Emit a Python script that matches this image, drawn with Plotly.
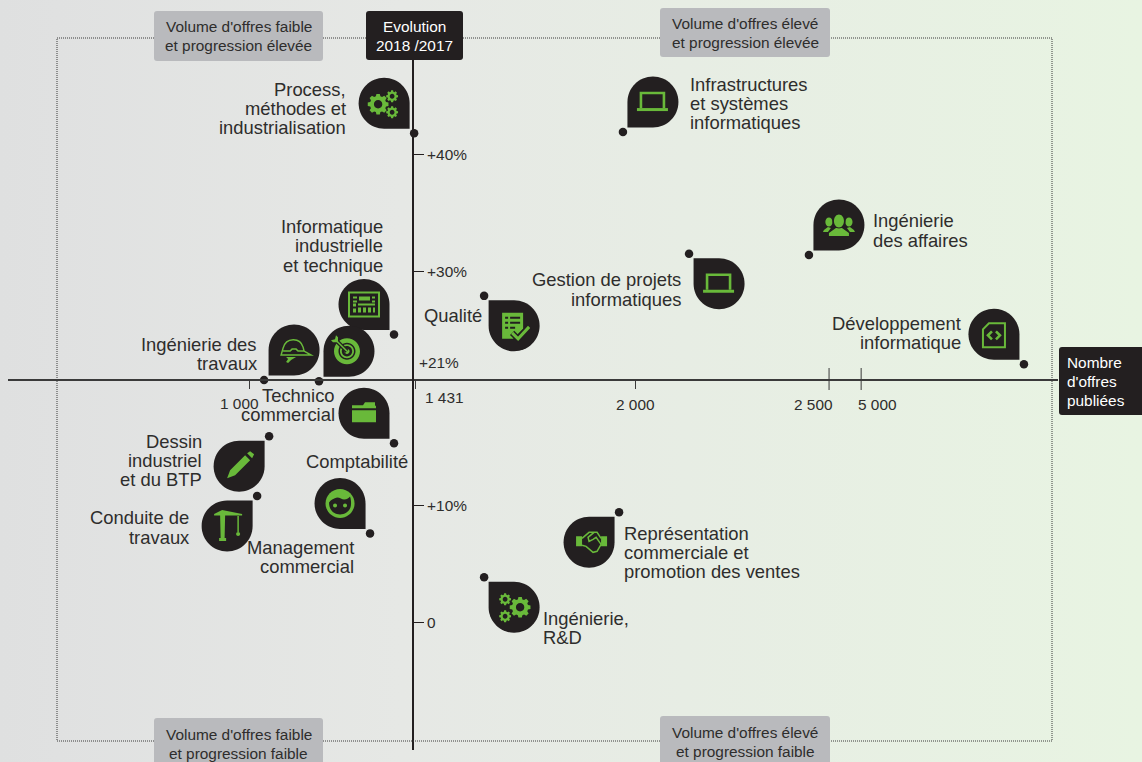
import math, re
import plotly.graph_objects as go

# ---------- data ----------
categories = [
    "Process,\nméthodes et\nindustrialisation", "Infrastructures\net systèmes\ninformatiques",
    "Ingénierie\ndes affaires", "Gestion de projets\ninformatiques", "Qualité",
    "Informatique\nindustrielle\net technique", "Développement\ninformatique",
    "Ingénierie des\ntravaux", "Technico\ncommercial", "Comptabilité",
    "Dessin\nindustriel\net du BTP", "Conduite de\ntravaux", "Management\ncommercial",
    "Représentation\ncommerciale et\npromotion des ventes", "Ingénierie,\nR&D",
]
offers = [1427, 1967, 2448, 2138, 1608, 1375, 6200, 1039, 1181, 1375, 1052, 1021, 1313, 1957, 1608]
growth = [41.8, 41.9, 31.4, 31.5, 27.9, 24.6, 22.05, 20.7, 20.6, 15.3, 15.9, 10.8, 7.6, 9.4, 3.85]
y_ticks = [0, 10, 30, 40]
y_tick_labels = ["0", "+10%", "+30%", "+40%"]
x_ticks = [1000, 1431, 2000, 2500, 5000]
x_tick_labels = ["1 000", "1 431", "2 000", "2 500", "5 000"]

# ---------- styling ----------
W, H = 1142, 762
DARK = "#231f20"; GREEN = "#69b93a"; TEXT = "#2e2d2c"; GREY = "#b9babd"
FONT = "Liberation Sans"
LBL = 18.4; SMALL = 15.4

def to_axis(v):
    """Broken horizontal scale: linear up to 2 500, compressed after."""
    if v <= 2500: return v
    if v <= 5000: return 2500 + (v - 2500) * 83 / 2500
    return 2583 + (v - 5000) * 421 / 1200

X_DOM = (8, 1058); Y_DOM = (60, 750)          # pixel extents of the axes
XSC = 0.3867; YSC = 11.7
xr = [1000 + (X_DOM[0] - 249) / XSC, 1000 + (X_DOM[1] - 249) / XSC]
yr = [(622.3 - Y_DOM[1]) / YSC, (622.3 - Y_DOM[0]) / YSC]

fig = go.Figure()
fig.add_trace(go.Scatter(x=[0, 1, 1, 0, 0], y=[0, 0, 1, 1, 0], mode="lines", line=dict(width=0),
    fill="toself", hoverinfo="skip", showlegend=False,
    fillgradient=dict(type="horizontal", colorscale=[[0, "#dfe0e0"], [0.05, "#e0e1e1"], [0.35, "#e6e8e5"], [0.6, "#e7ede4"], [1, "#e8f4e2"]])))
fig.add_trace(go.Scatter(x=[to_axis(v) for v in offers], y=growth, xaxis="x2", yaxis="y2", mode="markers",
    marker=dict(size=8.5, color=DARK), cliponaxis=False, showlegend=False, text=categories, hoverinfo="text"))

shapes = []; ann = []

def txt(s, x, y, size=LBL, color=TEXT, anchor="center", **kw):
    ann.append(dict(text=s, x=x, y=y, showarrow=False, xanchor=anchor, yanchor="middle", borderpad=0,
                    font=dict(family=FONT, size=size, color=color), **kw))

def paper_txt(s, px, py, **kw):
    txt(s, px / W, 1 - py / H, xref="paper", yref="paper", **kw)

def round_box(x0, y0, x1, y1, color, r=3):
    X0, X1 = x0 / W, x1 / W; Y0, Y1 = 1 - y0 / H, 1 - y1 / H; rx, ry = r / W, r / H
    p = (f"M{X0+rx},{Y0} L{X1-rx},{Y0} Q{X1},{Y0} {X1},{Y0-ry} L{X1},{Y1+ry} Q{X1},{Y1} {X1-rx},{Y1} "
         f"L{X0+rx},{Y1} Q{X0},{Y1} {X0},{Y1+ry} L{X0},{Y0-ry} Q{X0},{Y0} {X0+rx},{Y0} Z")
    shapes.append(dict(type="path", path=p, xref="paper", yref="paper", fillcolor=color, line=dict(width=0), layer="above"))

shapes.append(dict(type="rect", xref="paper", yref="paper", x0=57/W, x1=1052/W, y0=1-741/H, y1=1-38/H,
                   line=dict(color="#3a3a3a", width=1, dash="1px,1px"), layer="above"))
for v in (2500, 5000):
    shapes.append(dict(type="line", xref="x2", yref="paper", x0=to_axis(v), x1=to_axis(v), y0=1-368/H, y1=1-390/H,
                       line=dict(color="#3a3a3a", width=1), layer="above"))

for (x0, y0, x1, y1, l1, l2, yy) in [
    (154, 11, 323, 61, "Volume d'offres faible", "et progression élevée", (26, 45)),
    (660, 8, 830, 57, "Volume d'offres élevé", "et progression élevée", (23, 42)),
    (154, 718, 323, 770, "Volume d'offres faible", "et progression faible", (734, 753)),
    (660, 716, 830, 770, "Volume d'offres élevé", "et progression faible", (732, 751)),
]:
    round_box(x0, y0, x1, y1, GREY)
    paper_txt(l1, (x0 + x1) / 2, yy[0], size=SMALL)
    paper_txt(l2, (x0 + x1) / 2, yy[1], size=SMALL)
round_box(366, 11, 463, 60, DARK)
paper_txt("Evolution", 414, 26, size=SMALL, color="white")
paper_txt("2018 /2017", 414, 45, size=SMALL, color="white")
round_box(1059, 347, 1160, 415, DARK)
for s, py in zip(["Nombre", "d'offres", "publiées"], (362, 381, 400)):
    paper_txt(s, 1066, py, size=SMALL, color="white", anchor="left")

# ---------- pins ----------
OFF = 4.5; R = 25.5; K = 0.5523 * R

def xf(path, ox, oy):
    """local pixel path (y down) -> shape pixel path (y up, origin at the point)"""
    toks = re.findall(r"[MLCQZ]|-?\d+\.?\d*", path)
    out = []; i = 0
    while i < len(toks):
        t = toks[i]
        if t in "MLCQZ":
            out.append(t); i += 1
        else:
            out.append(f"{float(t)+ox:.2f},{-(float(toks[i+1])+oy):.2f}"); i += 2
    return " ".join(out)

def circ(cx, cy, r, ry=None):
    ry = ry or r
    k = .5523 * r; m = .5523 * ry
    return (f"M{cx-r} {cy} C{cx-r} {cy-m} {cx-k} {cy-ry} {cx} {cy-ry} C{cx+k} {cy-ry} {cx+r} {cy-m} {cx+r} {cy} "
            f"C{cx+r} {cy+m} {cx+k} {cy+ry} {cx} {cy+ry} C{cx-k} {cy+ry} {cx-r} {cy+m} {cx-r} {cy} Z ")

def rect(x0, y0, x1, y1):
    return f"M{x0} {y0} L{x1} {y0} L{x1} {y1} L{x0} {y1} Z "

def gear(cx, cy, r, teeth=8, hole=.4):
    pts = []
    for i in range(teeth):
        a = 2 * math.pi * i / teeth; w = math.pi / teeth * .55
        for da, rr in ((-w*1.3, r*.78), (-w*.75, r), (w*.75, r), (w*1.3, r*.78)):
            pts.append((cx + rr * math.cos(a + da), cy + rr * math.sin(a + da)))
    return "M" + " L".join(f"{x:.2f} {y:.2f}" for x, y in pts) + " Z " + circ(round(cx, 2), round(cy, 2), round(r * hole, 2))

def pin(corner):
    R_ = R; k = K
    if corner == "br":
        return f"M0 0 L-{R_} 0 C-{R_+k} 0 -{2*R_} -{R_-k} -{2*R_} -{R_} C-{2*R_} -{R_+k} -{R_+k} -{2*R_} -{R_} -{2*R_} C-{R_-k} -{2*R_} 0 -{R_+k} 0 -{R_} Z"
    if corner == "bl":
        return f"M0 0 L{R_} 0 C{R_+k} 0 {2*R_} -{R_-k} {2*R_} -{R_} C{2*R_} -{R_+k} {R_+k} -{2*R_} {R_} -{2*R_} C{R_-k} -{2*R_} 0 -{R_+k} 0 -{R_} Z"
    if corner == "tr":
        return f"M0 0 L-{R_} 0 C-{R_+k} 0 -{2*R_} {R_-k} -{2*R_} {R_} C-{2*R_} {R_+k} -{R_+k} {2*R_} -{R_} {2*R_} C-{R_-k} {2*R_} 0 {R_+k} 0 {R_} Z"
    return f"M0 0 L{R_} 0 C{R_+k} 0 {2*R_} {R_-k} {2*R_} {R_} C{2*R_} {R_+k} {R_+k} {2*R_} {R_} {2*R_} C{R_-k} {2*R_} 0 {R_+k} 0 {R_} Z"

LAPTOP_S = "M-12 6 L-12 -9 L11 -9 L11 6"
LAPTOP_F = "M-16 6 L15 6 L15 9 L-16 9 Z"

ICONS = {
    "gears_r": [("f", gear(-6, 1, 10.5) + gear(8, -7, 6) + gear(8, 9, 6))],
    "gears_l": [("f", gear(6, 0, 10.5) + gear(-9, -8, 6) + gear(-9, 9, 6))],
    "laptop": [("s3", LAPTOP_S), ("f", LAPTOP_F)],
    "people": [("f", "M-10 11 L-10 8 L-3 3 L3 3 L10 8 L10 11 Z " + circ(-10, -3, 3.6, 4.5) + "M-16 7 L-15 5 L-11 2 L-8 3 L-11 7 Z "
                + circ(10, -3, 3.6, 4.5) + "M16 7 L15 5 L11 2 L8 3 L11 7 Z "),
               ("d", circ(0, -4, 6.5, 7.5)), ("f", circ(0, -4, 5, 6.5))],
    "check": [("f", "M-12 -13 L9 -13 L9 3 L3 9 L-1 13 L-12 13 Z"),
              ("d", rect(-9, -9, -6, -7) + rect(-4, -9, 6, -7) + rect(-9, -4, -6, -2) + rect(-4, -4, 6, -2) + rect(-9, 1, -6, 3) + rect(-4, 1, 1, 3)),
              ("c", "M-2 7 L4 13 L15 1")],
    "panel": [("s", rect(-15, -12, 15, 12)),
              ("f", rect(-11, -8, -7, -6) + rect(-5, -8, 6, -4) + rect(8, -8, 11, -6) + rect(-11, -4, -7, -2)
               + rect(8, -4, 11, -2) + rect(-11, -1, -8, 2) + rect(-6, -1, 11, 1) + rect(-11, 4, -8, 8) + rect(-6, 3, -3, 8)
               + rect(-1, 3, 2, 8) + rect(4, 3, 7, 8) + rect(9, 3, 11, 8))],
    "doc": [("s", "M-5 -11 L11 -11 L11 13 L-11 13 L-11 -5 Z"),
            ("s3", "M-2 -3 L-6 1 L-2 5 M2 -3 L6 1 L2 5")],
    "helmet": [("s15", "M-13 5 L-11 -2 C-8 -13 6 -13 9 -3 L10 1 L17 5 L-13 5 Z M-11 1 L-4 1 L-2 -1 L2 -1 L4 1 L10 1"),
               ("f", "M-8 7 L2 7 L-3 10 L-6 13 L-8 12 L-6 9 Z")],
    "target": [("f", circ(-2, 0, 13) + circ(-2, 0, 8.5) + circ(-2, 0, 7) + circ(-2, 0, 5.2) + circ(-2, 0, 2.6)),
               ("c1", "M-13 -11 L-2 0"), ("f", "M-16 -9 L-11 -9 L-11 -14 L-13 -16 L-14 -12 L-18 -11 Z")],
    "folder": [("f", "M-12 -5 L-12 -8 L-1 -8 L1 -11 L11 -11 L11 -8 L12 -7 L12 -5 Z M-12 -3 L12 -3 L12 9 L-12 9 Z")],
    "pencil": [("f", "M-12 12 L-9 4 L6 -11 L11 -6 L-4 9 Z M8 -13 L11 -15 L15 -12 L13 -8 Z")],
    "face": [("f", circ(0, 0, 14.5)), ("d", "M-11 -1 C-9 -4 -6 -5 -3 -6 C0 -6 2 -4 4 -4 C7 -4 9 -6 10 -7 C11 -4 11 -2 11 0 C11 7 6 11 0 11 C-6 11 -11 7 -11 -1 Z"),
             ("f", circ(-5, 2, 2) + circ(5, 2, 2))],
    "crane": [("f", "M-13 -12 L-5 -16 L15 -12 L15 -10.5 L-13 -10.5 Z M-7 -10.5 L-2 -10.5 L-2.5 12 L-6.5 12 Z M-8 12 L-1 12 L-1 15 L-8 15 Z"),
              ("s15", "M11 -10 L11 6"), ("f", circ(11, 8, 2))],
    "hands": [("f", "M-13 -6 L-7 -6 L-7 4 L-13 4 Z M12 -6 L18 -6 L18 4 L12 4 Z"),
              ("s15", "M-7 -4 L0 -10 L8 -10 L12 -4 M-7 3 L-3 4 L4 10 L8 9 L12 2 M5 -10 L-1 -5 L0 -1 L4 -3 L7 -5 L12 2")],
}

# (corner touching the point, icon, label side, label x offset from point, first line y offset)
PINS = [
    ("br", "gears_r", "right", -67, -44),
    ("bl", "laptop", "left", 66, -48),
    ("bl", "people", "left", 63, -34),
    ("tl", "laptop", "right", -7, 26),
    ("tl", "check", "right", -1, 20),
    ("br", "panel", "right", -10, -108),
    ("br", "doc", "right", -62, -41),
    ("bl", "helmet", "right", -6, -36),
    ("bl", "target", "right", 17, 14),
    ("br", "folder", "right", 15, 18),
    ("tr", "pencil", "right", -66, 5),
    ("tr", "crane", "right", -67, 22),
    ("br", "face", "right", -15, 14),
    ("tr", "hands", "left", 4, 21),
    ("tl", "gears_l", "left", 58, 41),
]
ICON_WIDTH = {"s": 2, "s3": 2.6, "s15": 1.5}

for cat, v, g, (corner, icon, side, lx, ly) in zip(categories, offers, growth, PINS):
    ax = to_axis(v)
    ox = -OFF if corner[1] == "r" else OFF; oy = -OFF if corner[0] == "b" else OFF
    base = dict(type="path", xref="x2", yref="y2", xsizemode="pixel", ysizemode="pixel", xanchor=ax, yanchor=g, layer="above")
    shapes.append({**base, "path": xf(pin(corner), ox, oy), "fillcolor": DARK, "line": dict(width=0)})
    cx = ox + (-R if corner[1] == "r" else R); cy = oy + (-R if corner[0] == "b" else R)
    for kind, p in ICONS[icon]:
        if kind == "f":
            st = dict(fillcolor=GREEN, line=dict(width=0))
        elif kind == "d":
            st = dict(fillcolor=DARK, line=dict(width=0))
        elif kind == "c":
            shapes.append({**base, "path": xf(p, cx, cy), "line": dict(color=DARK, width=6)})
            st = dict(line=dict(color=GREEN, width=3))
        elif kind == "c1":
            shapes.append({**base, "path": xf(p, cx, cy), "line": dict(color=DARK, width=4)})
            st = dict(line=dict(color=GREEN, width=1.6))
        else:
            st = dict(line=dict(color=GREEN, width=ICON_WIDTH[kind]))
        shapes.append({**base, "path": xf(p, cx, cy), **st})
    for i, line in enumerate(cat.split("\n")):
        txt(line, ax, g, xref="x2", yref="y2", anchor=side, xshift=lx, yshift=-(ly + i * 19.3))

for v, s, dx, py in zip(x_ticks, x_tick_labels, (-10, 29, 0, -16, 16), (403, 397, 404, 404, 404)):
    txt(s, to_axis(v), 1 - py / H, size=SMALL, xref="x2", yref="paper", xshift=dx)
paper_txt("+21%", 418, 362, size=SMALL, anchor="left")

fig.update_layout(
    width=W, height=H, margin=dict(l=0, r=0, t=0, b=0), showlegend=False, hovermode="closest",
    paper_bgcolor="#e6e8e5", plot_bgcolor="rgba(0,0,0,0)", font=dict(family=FONT, color=TEXT),
    xaxis=dict(domain=[0, 1], range=[0, 1], visible=False, fixedrange=True),
    yaxis=dict(domain=[0, 1], range=[0, 1], visible=False, fixedrange=True),
    xaxis2=dict(domain=[X_DOM[0] / W, X_DOM[1] / W], range=xr, anchor="free", position=(H - 380) / H,
                showline=True, linecolor="#3a3a3a", linewidth=1.5, showgrid=False, zeroline=False,
                tickvals=[to_axis(v) for v in x_ticks[:3]], ticks="outside", ticklen=8, tickwidth=1, tickcolor="#3a3a3a",
                showticklabels=False, fixedrange=True),
    yaxis2=dict(domain=[1 - Y_DOM[1] / H, 1 - Y_DOM[0] / H], range=yr, anchor="free", position=413 / W, side="right",
                showline=True, linecolor=DARK, linewidth=2, showgrid=False, zeroline=False,
                tickvals=y_ticks, ticktext=y_tick_labels, ticks="outside", ticklen=10, tickwidth=1, tickcolor=DARK,
                tickfont=dict(family=FONT, size=SMALL, color=TEXT), fixedrange=True),
    shapes=shapes, annotations=ann,
)
fig.write_html("out.html", post_script="document.body.style.margin='0';document.body.style.overflow='hidden';",
               config={"displayModeBar": False})
